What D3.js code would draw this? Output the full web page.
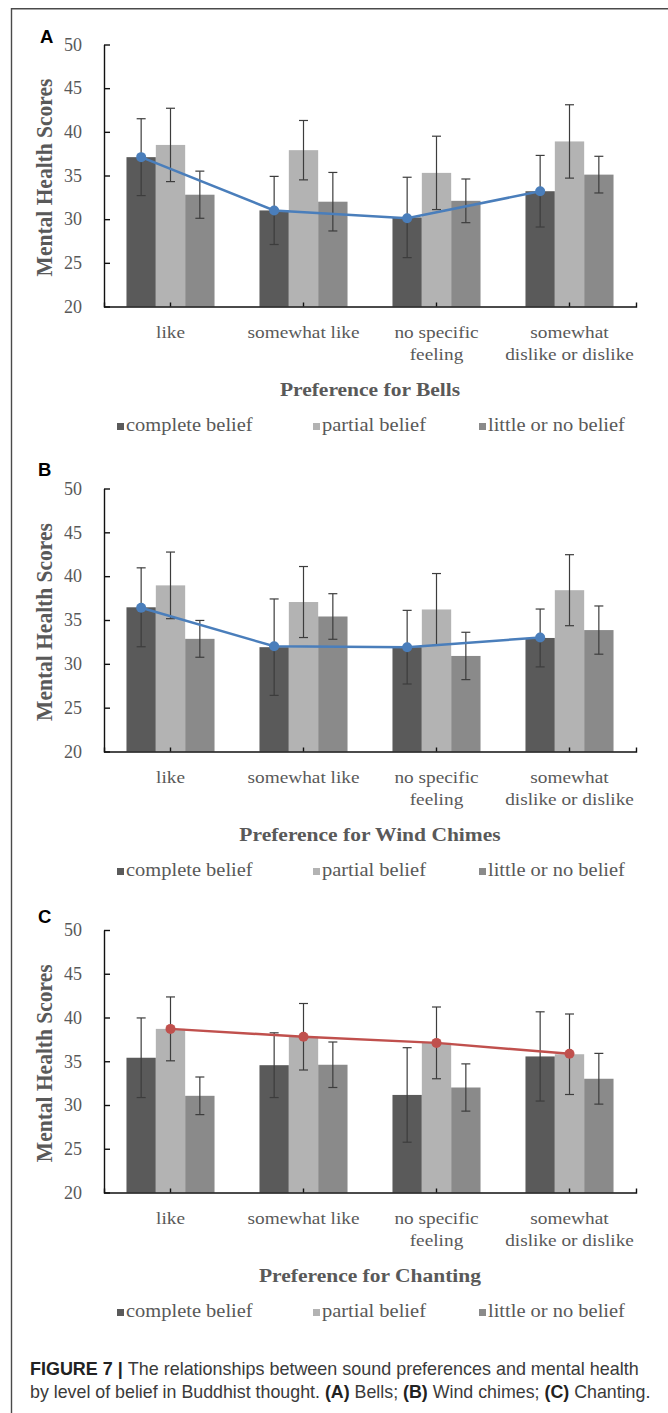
<!DOCTYPE html>
<html>
<head>
<meta charset="utf-8">
<script src="https://cdn.jsdelivr.net/npm/d3@7"></script>
<style>
  body { margin: 0; background: #fff; }
  svg { display: block; }
</style>
</head>
<body>
<script>
// categories / series
const categories = ["like", "somewhat like", "no specific feeling", "somewhat dislike or dislike"];
const catLines = [["like"], ["somewhat like"], ["no specific", "feeling"], ["somewhat", "dislike or dislike"]];
const series = ["complete belief", "partial belief", "little or no belief"];
const yTicks = [20, 25, 30, 35, 40, 45, 50];

// means per series (complete, partial, little) and error bars
const bellsMean = [[37.1, 31.0, 30.2, 33.2], [38.5, 37.9, 35.3, 38.9], [32.8, 32.0, 32.1, 35.1]];
const bellsErr  = [[4.4, 3.9, 4.6, 4.1], [4.2, 3.4, 4.2, 4.2], [2.7, 3.35, 2.5, 2.1]];
const bellsLine = [37.1, 31.0, 30.1, 33.2];

const windMean = [[36.45, 31.9, 31.9, 32.95], [38.95, 37.05, 36.2, 38.4], [32.85, 35.4, 30.9, 33.85]];
const windErr  = [[4.5, 5.5, 4.2, 3.3], [3.8, 4.05, 4.1, 4.05], [2.1, 2.6, 2.7, 2.75]];
const windLine = [36.4, 32.0, 31.9, 33.0];

const chantMean = [[35.4, 34.55, 31.15, 35.55], [38.7, 37.8, 37.1, 35.8], [31.05, 34.6, 32.0, 33.0]];
const chantErr  = [[4.55, 3.7, 5.4, 5.1], [3.65, 3.8, 4.1, 4.6], [2.15, 2.6, 2.7, 2.9]];
const chantLine = [38.7, 37.8, 37.1, 35.85];

const W = 668, H = 1413;
const serif = "'Liberation Serif', 'Times New Roman', serif";
const sans = "'Liberation Sans', Arial, sans-serif";
const txtGrey = "#595959";
const sx = 1.15;  // the figure is a bit stretched sideways

const panels = [
  {letter: "A", lx: 40, ly: 43, top: 44.5, bottom: 306.5, title: "Preference for Bells",
   mean: bellsMean, err: bellsErr, line: bellsLine, lineSeries: 0, lineColor: "#4a7ebb"},
  {letter: "B", lx: 38, ly: 476, top: 488.5, bottom: 751.5, title: "Preference for Wind Chimes",
   mean: windMean, err: windErr, line: windLine, lineSeries: 0, lineColor: "#4a7ebb"},
  {letter: "C", lx: 38, ly: 923, top: 930, bottom: 1192.5, title: "Preference for Chanting",
   mean: chantMean, err: chantErr, line: chantLine, lineSeries: 1, lineColor: "#c0504d"}
];

const svg = d3.select("body").append("svg")
  .attr("width", W)
  .attr("height", H);

// frame
svg.append("path")
  .attr("d", `M11.5,${H} V8.8 H${W}`)
  .attr("fill", "none")
  .attr("stroke", "#4a4a4a")
  .attr("stroke-width", 1.4);

const x0 = d3.scaleBand().domain(categories).range([104, 636]).paddingInner(0.338).paddingOuter(0.169);
const x1 = d3.scaleBand().domain(series).range([0, x0.bandwidth()]);
const color = d3.scaleOrdinal().domain(series).range(["#5a5a5a", "#b3b3b3", "#8a8a8a"]);
const legendX = [117, 313, 479];

panels.forEach(p => {
  const y = d3.scaleLinear().domain([20, 50]).range([p.bottom, p.top]);
  const g = svg.append("g");

  // bars
  series.forEach((s, si) => {
    g.append("g").selectAll("rect")
      .data(categories)
      .enter()
      .append("rect")
      .attr("x", c => x0(c) + x1(s))
      .attr("width", x1.bandwidth())
      .attr("y", (c, i) => y(p.mean[si][i]))
      .attr("height", (c, i) => y(20) - y(p.mean[si][i]))
      .attr("fill", color(s));
  });

  // error bars
  series.forEach((s, si) => {
    const eg = g.append("g").attr("stroke", "#3d3d3d").attr("stroke-width", 1.2);
    categories.forEach((c, i) => {
      const cx = x0(c) + x1(s) + x1.bandwidth() / 2;
      const lo = y(p.mean[si][i] - p.err[si][i]);
      const hi = y(p.mean[si][i] + p.err[si][i]);
      eg.append("line").attr("x1", cx).attr("x2", cx).attr("y1", lo).attr("y2", hi);
      eg.append("line").attr("x1", cx - 4.5).attr("x2", cx + 4.5).attr("y1", hi).attr("y2", hi);
      eg.append("line").attr("x1", cx - 4.5).attr("x2", cx + 4.5).attr("y1", lo).attr("y2", lo);
    });
  });

  // y axis
  const ya = g.append("g")
    .attr("transform", "translate(104,0)")
    .call(d3.axisLeft(y).tickValues(yTicks).tickSizeInner(-6).tickSizeOuter(0).tickPadding(22));
  ya.attr("font-family", serif).attr("font-size", 18);
  ya.selectAll("text").attr("fill", txtGrey);
  ya.selectAll("line, path").attr("stroke", "#111").attr("stroke-width", 1.4);

  // x axis
  const xa = g.append("g")
    .attr("transform", `translate(0,${p.bottom})`)
    .call(d3.axisBottom(x0).tickSizeInner(-4).tickSizeOuter(-4).tickFormat(""));
  xa.selectAll("line, path").attr("stroke", "#111").attr("stroke-width", 1.4);

  // line + dots
  const lx = (c) => x0(c) + x1(series[p.lineSeries]) + x1.bandwidth() / 2;
  const line = d3.line().x((d, i) => lx(categories[i])).y(d => y(d));
  g.append("path")
    .datum(p.line)
    .attr("d", line)
    .attr("fill", "none")
    .attr("stroke", p.lineColor)
    .attr("stroke-width", 2.5);
  g.selectAll("circle.dot")
    .data(p.line)
    .enter()
    .append("circle")
    .attr("class", "dot")
    .attr("cx", (d, i) => lx(categories[i]))
    .attr("cy", d => y(d))
    .attr("r", 5)
    .attr("fill", p.lineColor);

  // category labels
  categories.forEach((c, i) => {
    const t = g.append("text")
      .attr("transform", `translate(${x0(c) + x0.bandwidth() / 2},${p.bottom + 31.5}) scale(${sx},1)`)
      .attr("text-anchor", "middle")
      .attr("font-family", serif)
      .attr("font-size", 16.8)
      .attr("fill", txtGrey);
    catLines[i].forEach((ln, k) => {
      t.append("tspan").attr("x", 0).attr("dy", k === 0 ? 0 : 22).text(ln);
    });
  });

  // axis titles
  g.append("text")
    .attr("transform", `translate(370,${p.bottom + 89}) scale(${sx},1)`)
    .attr("text-anchor", "middle")
    .attr("font-family", serif)
    .attr("font-weight", "bold")
    .attr("font-size", 18.7)
    .attr("fill", txtGrey)
    .text(p.title);

  g.append("text")
    .attr("transform", `translate(52,${(p.top + p.bottom) / 2 + 2}) scale(1.1,1) rotate(-90)`)
    .attr("text-anchor", "middle")
    .attr("font-family", serif)
    .attr("font-weight", "bold")
    .attr("font-size", 21.5)
    .attr("fill", txtGrey)
    .text("Mental Health Scores");

  // legend
  const ly = p.bottom + 124;
  series.forEach((s, si) => {
    g.append("rect")
      .attr("x", legendX[si]).attr("y", ly - 7.5)
      .attr("width", 7).attr("height", 7)
      .attr("fill", color(s));
    g.append("text")
      .attr("transform", `translate(${legendX[si] + 9},${ly}) scale(${sx},1)`)
      .attr("font-family", serif)
      .attr("font-size", 17.8)
      .attr("fill", txtGrey)
      .text(s);
  });

  // panel letter
  svg.append("text")
    .attr("x", p.lx).attr("y", p.ly)
    .attr("font-family", sans)
    .attr("font-weight", "bold")
    .attr("font-size", 18.5)
    .attr("fill", "#000")
    .text(p.letter);
});

// caption
const capLines = [
  [["FIGURE 7 | ", true], ["The relationships between sound preferences and mental health", false]],
  [["by level of belief in Buddhist thought. ", false], ["(A)", true], [" Bells; ", false], ["(B)", true],
   [" Wind chimes; ", false], ["(C)", true], [" Chanting.", false]]
];
const capRight = [639, 651];
capLines.forEach((parts, li) => {
  const t = svg.append("text")
    .attr("font-family", sans)
    .attr("font-size", 18)
    .attr("fill", "#3a3a3a");
  parts.forEach(([s, b]) => {
    t.append("tspan")
      .attr("font-weight", b ? "bold" : "normal")
      .attr("fill", b ? "#222" : "#3a3a3a")
      .text(s);
  });
  const w = t.node().getComputedTextLength();
  const k = (capRight[li] - 30) / w;
  t.attr("transform", `translate(30,${1375 + li * 23}) scale(${k},1)`);
});
</script>
</body>
</html>
